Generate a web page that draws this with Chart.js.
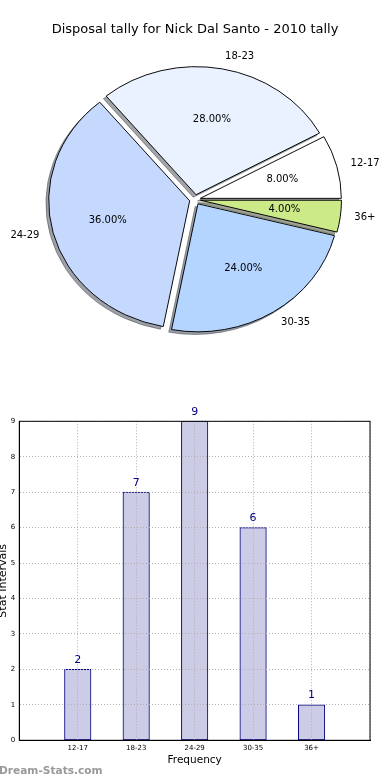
<!DOCTYPE html>
<html><head><meta charset="utf-8">
<script src="https://cdn.jsdelivr.net/npm/chart.js@4/dist/chart.umd.min.js"></script>
<style>
html,body{margin:0;padding:0;background:#fff;width:390px;height:780px;overflow:hidden;position:relative;font-family:"DejaVu Sans",sans-serif;}
#pieBox{position:absolute;left:0;top:0;width:390px;height:400px;}
#barBox{position:absolute;left:0;top:400px;width:390px;height:380px;}
#wm{position:absolute;left:-1px;top:763px;font:bold 10.6px "DejaVu Sans";color:#999;white-space:nowrap;line-height:14px;}
</style></head><body>
<div id="pieBox"><canvas id="pie"></canvas></div>
<div id="barBox"><canvas id="bar"></canvas></div>
<div id="wm">Dream-Stats.com</div>
<script>
// ---- data ----
const chartTitle = 'Disposal tally for Nick Dal Santo - 2010 tally';
const categories = ['12-17', '18-23', '24-29', '30-35', '36+'];
const counts = [2, 7, 9, 6, 1];
const sliceColors = ['#FFFFFF', '#EAF1FF', '#C5D9FF', '#B4D5FF', '#CCEA88'];
const yMax = 9;
const xTitle = 'Frequency';
const yTitle = 'Stat Intervals';

// ---- style constants ----
const FONT = '"DejaVu Sans", sans-serif';
const R = 141, SY = 0.908, EXPLODE = 5.5, SH_DX = -2.8, SH_DY = 2.6;

const total = counts.reduce((a, b) => a + b, 0);
// pie in matplotlib order (CCW from 3 o'clock) => Chart.js clockwise reversed
const pieLabels = categories.slice().reverse();
const pieValues = counts.slice().reverse();
const pieColors = sliceColors.slice().reverse();

function shadowOf(hex) {
  const h = hex.replace('#', '');
  const r = parseInt(h.substr(0, 2), 16), g = parseInt(h.substr(2, 2), 16), b = parseInt(h.substr(4, 2), 16);
  return 'rgba(' + Math.round(r * 0.3) + ',' + Math.round(g * 0.3) + ',' + Math.round(b * 0.3) + ',0.5)';
}

const pieDraw = {
  id: 'pieDraw',
  beforeDatasetDraw(chart, args) {
    const ctx = chart.ctx;
    const arcs = args.meta.data;
    const cx = arcs[0].x, cy = arcs[0].y;
    const place = (arc, dx, dy) => {
      const mid = (arc.startAngle + arc.endAngle) / 2;
      ctx.translate(dx, dy);
      ctx.translate(cx, cy); ctx.scale(1, SY); ctx.translate(-cx, -cy);
      ctx.translate(Math.cos(mid) * EXPLODE, Math.sin(mid) * EXPLODE);
    };
    arcs.forEach(arc => {
      ctx.save(); place(arc, SH_DX, SH_DY);
      const saved = arc.options;
      const sc = shadowOf(saved.backgroundColor);
      arc.options = Object.assign({}, saved, { backgroundColor: sc, borderColor: sc });
      arc.draw(ctx);
      arc.options = saved;
      ctx.restore();
    });
    arcs.forEach(arc => { ctx.save(); place(arc, 0, 0); arc.draw(ctx); ctx.restore(); });
    return false;
  },
  afterDraw(chart) {
    const ctx = chart.ctx;
    const arcs = chart.getDatasetMeta(0).data;
    ctx.save();
    ctx.font = '10px ' + FONT;
    ctx.fillStyle = '#000';
    ctx.textBaseline = 'middle';
    arcs.forEach((arc, i) => {
      const mid = (arc.startAngle + arc.endAngle) / 2;
      const c = Math.cos(mid), s = Math.sin(mid);
      const ex = arc.x + c * EXPLODE, ey = arc.y + s * EXPLODE * SY;
      ctx.textAlign = c > 0 ? 'left' : 'right';
      ctx.fillText(chart.data.labels[i], ex + 1.1 * R * c, ey + 1.1 * R * s * SY);
      ctx.textAlign = 'center';
      const v = chart.data.datasets[0].data[i];
      ctx.fillText((v / total * 100).toFixed(2) + '%', ex + 0.6 * R * c, ey + 0.6 * R * s * SY);
    });
    ctx.restore();
  }
};

new Chart(document.getElementById('pie'), {
  type: 'pie',
  data: {
    labels: pieLabels,
    datasets: [{ data: pieValues, backgroundColor: pieColors, borderColor: '#000', borderWidth: 1, radius: R, clip: false }]
  },
  options: {
    responsive: true, maintainAspectRatio: false, animation: false,
    rotation: 90, radius: R,
    events: [],
    layout: { padding: { top: 0, bottom: 48.4, left: 0, right: 0 } },
    plugins: {
      legend: { display: false }, tooltip: { enabled: false },
      title: { display: true, text: chartTitle, color: '#000', font: { family: FONT, size: 13, weight: 'normal' }, padding: { top: 22, bottom: 10 } }
    }
  },
  plugins: [pieDraw]
});

// ---- bar chart ----
const xLabels = [''].concat(categories, ['']);
const barValues = [null].concat(counts, [null]);

const barExtras = {
  id: 'barExtras',
  afterDraw(chart) {
    const ctx = chart.ctx, a = chart.chartArea;
    ctx.save();
    ctx.strokeStyle = '#000'; ctx.lineWidth = 1; ctx.setLineDash([]);
    ctx.strokeRect(a.left, a.top, a.right - a.left, a.bottom - a.top);
    ctx.font = '11px ' + FONT; ctx.fillStyle = '#000080';
    ctx.textAlign = 'center'; ctx.textBaseline = 'middle';
    const meta = chart.getDatasetMeta(0);
    meta.data.forEach((bar, i) => {
      const v = chart.data.datasets[0].data[i];
      if (v == null) return;
      ctx.fillText(String(v), bar.x, bar.y - 9.3);
    });
    ctx.restore();
  }
};

new Chart(document.getElementById('bar'), {
  type: 'bar',
  data: {
    labels: xLabels,
    datasets: [{ data: barValues, backgroundColor: '#CCCCE6', borderColor: '#000080', borderWidth: 1, borderSkipped: false, barThickness: 26.5 }]
  },
  options: {
    responsive: true, maintainAspectRatio: false, animation: false, events: [],
    layout: { padding: { top: 21.3, right: 20, left: 0, bottom: 0 } },
    plugins: { legend: { display: false }, tooltip: { enabled: false } },
    scales: {
      x: {
        type: 'category', offset: false,
        grid: { color: '#b0b0b0', drawTicks: false, offset: false, z: 1 },
        border: { color: '#000', width: 1, dash: [1, 2], z: 2 },
        ticks: { color: '#000', font: { family: FONT, size: 7 }, padding: 3.2, autoSkip: false, maxRotation: 0, z: 2 },
        title: { display: true, text: xTitle, color: '#000', font: { family: FONT, size: 10.5 }, padding: { top: 0, bottom: 13.7 } },
        afterFit(s) { s.height = 39.7; }
      },
      y: {
        min: 0, max: yMax,
        grid: { color: '#b0b0b0', drawTicks: false, z: 1 },
        border: { color: '#000', width: 1, dash: [1, 2], z: 2 },
        ticks: { stepSize: 1, color: '#000', font: { family: FONT, size: 7 }, padding: 4, z: 2 },
        title: { display: true, text: yTitle, color: '#000', font: { family: FONT, size: 11 }, padding: { top: -3, bottom: 0 } },
        afterFit(s) { s.width = 19.3; }
      }
    }
  },
  plugins: [barExtras]
});
</script>
</body></html>
